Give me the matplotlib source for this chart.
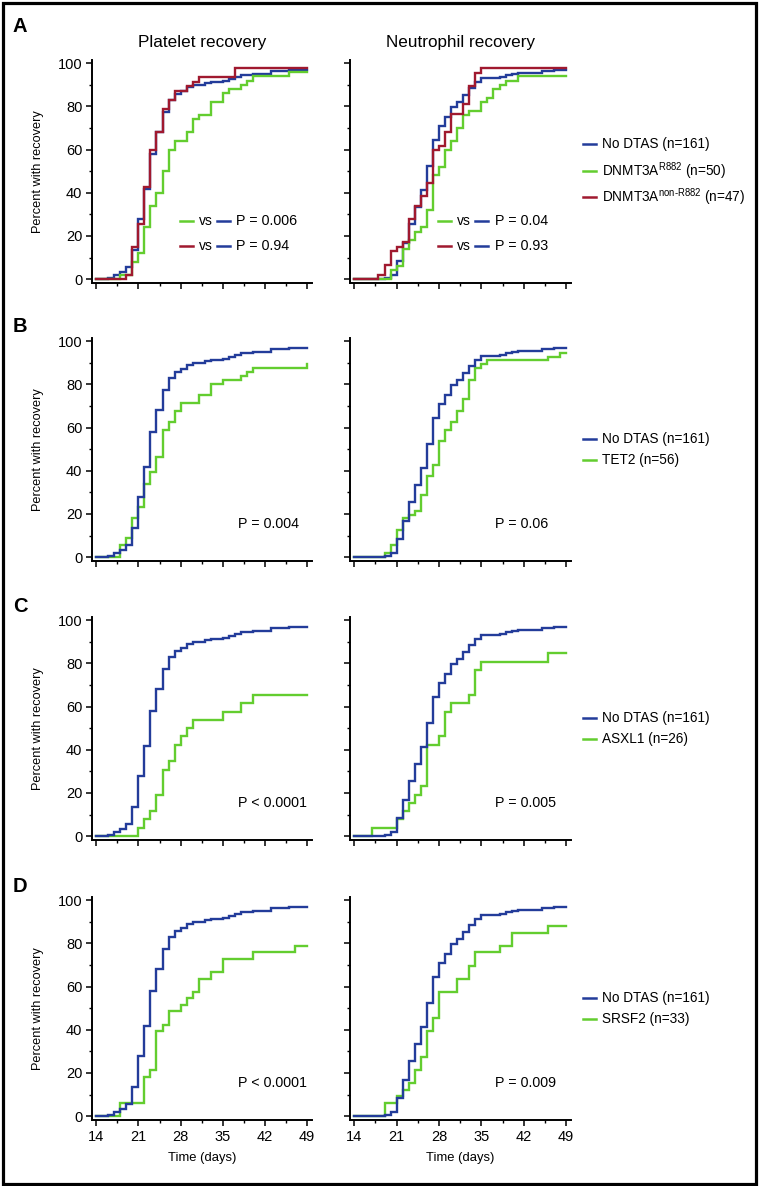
import matplotlib
matplotlib.use("Agg")
import matplotlib.pyplot as plt
from matplotlib.ticker import MultipleLocator
from matplotlib.lines import Line2D
from matplotlib.patches import Rectangle

plt.rcParams['font.family'] = ['Liberation Sans', 'DejaVu Sans']
plt.rcParams['mathtext.fontset'] = 'custom'
plt.rcParams['mathtext.rm'] = 'Liberation Sans'

# ---- data: day of each step and cumulative percent recovered after it ----
# No DTAS (n=161), same reference curve in every row
nodtas_plt_days = [16, 17, 18, 19, 20, 21, 22, 23, 24, 25, 26, 27, 28, 29, 30,
                   32, 33, 35, 36, 37, 38, 40, 43, 46]
nodtas_plt_pct = [0.6, 1.9, 3.1, 5.6, 13.7, 28.0, 41.6, 57.8, 68.3, 77.6, 83.2,
                  85.7, 87.0, 88.8, 90.1, 90.7, 91.3, 91.9, 92.5, 93.8, 94.4,
                  95.0, 96.3, 96.9]
nodtas_neu_days = [19, 20, 21, 22, 23, 24, 25, 26, 27, 28, 29, 30, 31, 32, 33,
                   34, 35, 38, 39, 40, 41, 45, 47]
nodtas_neu_pct = [0.6, 2.0, 8.4, 16.8, 25.6, 33.6, 41.5, 52.2, 64.6, 70.8, 75.2,
                  79.8, 81.9, 85.3, 88.4, 91.3, 93.2, 93.8, 94.4, 95.0, 95.7,
                  96.3, 96.9]

# A: DNMT3A R882 (n=50) and non-R882 (n=47)
r882_plt_days = [18, 20, 21, 22, 23, 24, 25, 26, 27, 29, 30, 31, 33, 35, 36,
                 38, 39, 40, 46]
r882_plt_pct = [2, 8, 12, 24, 34, 40, 50, 60, 64, 68, 74, 76, 82, 86, 88, 90,
                92, 94, 96]
r882_neu_days = [20, 21, 22, 23, 24, 25, 26, 27, 28, 29, 30, 31, 32, 33, 35,
                 36, 37, 38, 39, 41]
r882_neu_pct = [4, 6, 14, 18, 22, 24, 32, 48, 52, 60, 64, 70, 76, 78, 82, 84,
                88, 90, 92, 94]
nonr882_plt_days = [19, 20, 21, 22, 23, 24, 25, 26, 27, 29, 30, 31, 37]
nonr882_plt_pct = [2.1, 14.9, 25.5, 42.6, 59.6, 68.1, 78.7, 83.0, 87.2, 89.4,
                   91.5, 93.6, 97.9]
nonr882_neu_days = [18, 19, 20, 21, 22, 23, 24, 25, 26, 27, 28, 29, 30, 32, 33,
                    34, 35]
nonr882_neu_pct = [2.1, 6.4, 12.8, 14.9, 17.0, 27.7, 34.0, 38.3, 44.7, 59.6,
                   61.7, 68.1, 76.6, 80.9, 89.4, 95.7, 97.9]

# B: TET2 (n=56)
tet2_plt_days = [18, 19, 20, 21, 22, 23, 24, 25, 26, 27, 28, 31, 33, 35, 38,
                 39, 40, 49]
tet2_plt_pct = [5.4, 8.9, 17.9, 23.2, 33.9, 39.3, 46.4, 58.9, 62.5, 67.9, 71.4,
                75.0, 80.4, 82.1, 83.9, 85.7, 87.5, 89.3]
tet2_neu_days = [19, 20, 21, 22, 23, 24, 25, 26, 27, 28, 29, 30, 31, 32, 33,
                 34, 35, 36, 46, 48]
tet2_neu_pct = [1.8, 5.4, 12.5, 17.9, 19.6, 21.4, 28.6, 37.5, 42.9, 53.6, 58.9,
                62.5, 67.9, 73.2, 82.1, 87.5, 89.3, 91.1, 92.9, 94.6]

# C: ASXL1 (n=26)
asxl1_plt_days = [21, 22, 23, 24, 25, 26, 27, 28, 29, 30, 35, 38, 40]
asxl1_plt_pct = [3.8, 7.7, 11.5, 19.2, 30.8, 34.6, 42.3, 46.2, 50.0, 53.8,
                 57.7, 61.5, 65.4]
asxl1_neu_days = [17, 21, 22, 23, 24, 25, 26, 28, 29, 30, 33, 34, 35, 46]
asxl1_neu_pct = [3.8, 7.7, 11.5, 15.4, 19.2, 23.1, 42.3, 46.2, 57.7, 61.5,
                 65.4, 76.9, 80.8, 84.6]

# D: SRSF2 (n=33)
srsf2_plt_days = [18, 22, 23, 24, 25, 26, 28, 29, 30, 31, 33, 35, 40, 47]
srsf2_plt_pct = [6.1, 18.2, 21.2, 39.4, 42.4, 48.5, 51.5, 54.5, 57.6, 63.6,
                 66.7, 72.7, 75.8, 78.8]
srsf2_neu_days = [19, 21, 22, 23, 24, 25, 26, 27, 28, 31, 33, 34, 38, 40, 46]
srsf2_neu_pct = [6.1, 9.1, 12.1, 15.2, 21.2, 27.3, 39.4, 45.5, 57.6, 63.6,
                 69.7, 75.8, 78.8, 84.8, 87.9]

p_values_left = ['P = 0.004', 'P < 0.0001', 'P < 0.0001']
p_values_right = ['P = 0.06', 'P = 0.005', 'P = 0.009']
group_labels = ['TET2 (n=56)', 'ASXL1 (n=26)', 'SRSF2 (n=33)']
xticks = [14, 21, 28, 35, 42, 49]
yticks = [0, 20, 40, 60, 80, 100]

BLUE = '#233c9a'
GREEN = '#63cd2f'
RED = '#a0192f'

W, H = 760, 1186
fig = plt.figure(figsize=(W / 100, H / 100), dpi=100)


def km(ax, days, pct, color, z=2):
    x = [14] + list(days) + [49]
    y = [0] + list(pct) + [pct[-1]]
    ax.step(x, y, where='post', color=color, lw=1.7, zorder=z,
            solid_joinstyle='miter')


def make_axes(x0, w, bottom, left_labels, bottom_labels):
    ax = fig.add_axes([x0 / W, 1 - bottom / H, w / W, 223 / H])
    ax.set_xlim(13.3, 49.8)
    ax.set_ylim(-1.8, 101.5)
    for s in ['top', 'right']:
        ax.spines[s].set_visible(False)
    for s in ['left', 'bottom']:
        ax.spines[s].set_linewidth(1.4)
    ax.set_xticks(xticks)
    ax.set_yticks(yticks)
    ax.xaxis.set_minor_locator(MultipleLocator(3.5))
    ax.yaxis.set_minor_locator(MultipleLocator(10))
    ax.tick_params(which='major', direction='out', length=4, width=1.1,
                   labelsize=10.5, pad=3)
    ax.tick_params(which='minor', direction='out', length=2.3, width=1.0)
    if not left_labels:
        ax.set_yticklabels([])
    if not bottom_labels:
        ax.set_xticklabels([])
    return ax


def legend_rows(ys, entries):
    for y, (color, label) in zip(ys, entries):
        fig.add_artist(Line2D([583 / W, 596 / W], [1 - y / H, 1 - y / H],
                              color=color, lw=1.8))
        fig.text(602 / W, 1 - y / H, label, va='center', ha='left',
                 fontsize=9.8)


def vs_row(ax, yfrac, c1, ptext):
    ax.plot([0.40, 0.459], [yfrac, yfrac], transform=ax.transAxes,
            color=c1, lw=1.8, clip_on=False)
    ax.text(0.484, yfrac, 'vs', transform=ax.transAxes, va='center',
            ha='left', fontsize=10)
    ax.plot([0.567, 0.626], [yfrac, yfrac], transform=ax.transAxes,
            color=BLUE, lw=1.8, clip_on=False)
    ax.text(0.655, yfrac, ptext, transform=ax.transAxes, va='center',
            ha='left', fontsize=10.3)


bottoms = [283, 561, 840, 1120]
letters = ['A', 'B', 'C', 'D']
letter_y = [26, 327, 607, 886]

# frame around the whole figure
fig.add_artist(Rectangle((2.5 / W, 2.5 / H), 753.5 / W, 1181 / H, fill=False,
                         lw=2.3, edgecolor='black',
                         transform=fig.transFigure))

for i, b in enumerate(bottoms):
    last = i == 3
    axl = make_axes(92, 220, b, True, last)
    axr = make_axes(350, 221, b, False, last)
    fig.text(20 / W, 1 - letter_y[i] / H, letters[i], fontsize=14.5,
             fontweight='bold', ha='center', va='center')
    fig.text(38 / W, 1 - (b - 111.5) / H, 'Percent with recovery',
             rotation=90, ha='center', va='center', fontsize=9.2)
    if i == 0:
        km(axl, nodtas_plt_days, nodtas_plt_pct, BLUE, 2)
        km(axl, r882_plt_days, r882_plt_pct, GREEN, 3)
        km(axl, nonr882_plt_days, nonr882_plt_pct, RED, 4)
        km(axr, nodtas_neu_days, nodtas_neu_pct, BLUE, 2)
        km(axr, r882_neu_days, r882_neu_pct, GREEN, 3)
        km(axr, nonr882_neu_days, nonr882_neu_pct, RED, 4)
        axl.set_title('Platelet recovery', fontsize=12.3, pad=9)
        axr.set_title('Neutrophil recovery', fontsize=12.3, pad=9)
        vs_row(axl, 0.278, GREEN, 'P = 0.006')
        vs_row(axl, 0.166, RED, 'P = 0.94')
        vs_row(axr, 0.278, GREEN, 'P = 0.04')
        vs_row(axr, 0.166, RED, 'P = 0.93')
        legend_rows([144, 171, 197], [
            (BLUE, 'No DTAS (n=161)'),
            (GREEN, r'DNMT3A$^{\mathregular{R882}}$ (n=50)'),
            (RED, r'DNMT3A$^{\mathregular{non\text{-}R882}}$ (n=47)')])
    else:
        grp = [None, (tet2_plt_days, tet2_plt_pct, tet2_neu_days, tet2_neu_pct),
               (asxl1_plt_days, asxl1_plt_pct, asxl1_neu_days, asxl1_neu_pct),
               (srsf2_plt_days, srsf2_plt_pct, srsf2_neu_days, srsf2_neu_pct)][i]
        km(axl, grp[0], grp[1], GREEN, 2)
        km(axl, nodtas_plt_days, nodtas_plt_pct, BLUE, 3)
        km(axr, grp[2], grp[3], GREEN, 2)
        km(axr, nodtas_neu_days, nodtas_neu_pct, BLUE, 3)
        axl.text(0.664, 0.167, p_values_left[i - 1], transform=axl.transAxes,
                 ha='left', va='center', fontsize=10.3)
        axr.text(0.656, 0.167, p_values_right[i - 1], transform=axr.transAxes,
                 ha='left', va='center', fontsize=10.3)
        c = b - 111.5
        legend_rows([c - 10.8, c + 10.8], [(BLUE, 'No DTAS (n=161)'),
                                           (GREEN, group_labels[i - 1])])
    if last:
        for ax in (axl, axr):
            ax.set_xlabel('Time (days)', fontsize=9.4, labelpad=6)

fig.savefig('out.png', dpi=100)
